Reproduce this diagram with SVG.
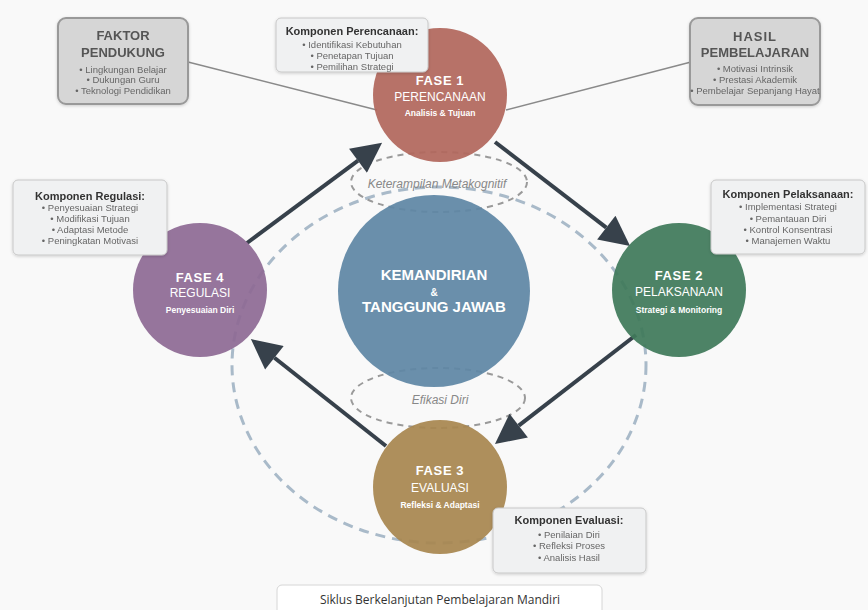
<svg xmlns="http://www.w3.org/2000/svg" width="868" height="610" viewBox="0 0 868 610">
<defs>
<style>
.t{font-family:"Liberation Sans",Arial,sans-serif;text-anchor:middle}
.ph{font-size:13px;font-weight:bold;fill:#fff;letter-spacing:0.6px}
.pn{font-size:12px;fill:#fff}
.ps{font-size:8.5px;font-weight:bold;fill:#fff}
.ct{font-size:15px;font-weight:bold;fill:#fff}
.bt{font-size:13px;font-weight:bold;fill:#555}
.bl{font-size:9.5px;fill:#666}
.kt{font-size:11px;font-weight:bold;fill:#333}
.kl{font-size:9.5px;fill:#666}
.el{font-size:12px;font-style:italic;fill:#888}
.cbox{fill:#f0f1f2;stroke:#c8c8c8;stroke-width:1}
.gbox{fill:#d6d6d6;stroke:#999;stroke-width:2}
.arr{stroke:#37414b;stroke-width:4;fill:none}
.gl{stroke:#8a8a8a;stroke-width:1.6;fill:none}
.dsh{fill:none;stroke:#9a9a9a;stroke-width:2;stroke-dasharray:6 5}
.node{opacity:0.93}
</style>
<marker id="ah" viewBox="0 0 10 10" markerUnits="userSpaceOnUse" markerWidth="35" markerHeight="30" refX="0" refY="5" orient="auto">
<path d="M0,0 L10,5 L0,10 z" fill="#37414b"/>
</marker>
<filter id="sh" x="-10%" y="-10%" width="120%" height="130%">
<feDropShadow dx="0" dy="1" stdDeviation="1.5" flood-color="#000" flood-opacity="0.18"/>
</filter>
</defs>
<rect width="868" height="610" fill="#f9f9f9"/>

<g id="background-rings">
<ellipse cx="439" cy="365" rx="207" ry="178" fill="none" stroke="#a9bac9" stroke-width="3" stroke-dasharray="10 7"/>
<ellipse cx="439" cy="182" rx="88" ry="30" class="dsh"/>
<ellipse cx="438" cy="398" rx="87" ry="30" class="dsh"/>
</g>

<g id="connectors">
<path class="gl" d="M188,62 Q290,88 377,110"/>
<path class="gl" d="M691,62 Q600,86 506,110"/>
<line class="arr" x1="247" y1="243" x2="358" y2="160.7" marker-end="url(#ah)"/>
<line class="arr" x1="495" y1="142" x2="606.3" y2="227.7" marker-end="url(#ah)"/>
<line class="arr" x1="636" y1="335" x2="518.7" y2="425.6" marker-end="url(#ah)"/>
<line class="arr" x1="386" y1="446" x2="274.4" y2="357.7" marker-end="url(#ah)"/>
</g>

<g id="center">
<circle class="node" cx="434" cy="291" r="96" fill="#5f86a5"/>
<text class="t ct" x="434" y="280">KEMANDIRIAN</text>
<text class="t" x="434" y="296" style="font-size:10px;font-weight:bold;fill:#fff">&amp;</text>
<text class="t ct" x="434" y="312">TANGGUNG JAWAB</text>
</g>

<g id="fase1">
<circle class="node" cx="440" cy="95" r="67" fill="#b2675d"/>
<text class="t ph" x="440" y="85">FASE 1</text>
<text class="t pn" x="440" y="101">PERENCANAAN</text>
<text class="t ps" x="440" y="116">Analisis &amp; Tujuan</text>
</g>

<g id="fase2">
<circle class="node" cx="679" cy="290" r="67" fill="#3f7a5a"/>
<text class="t ph" x="679" y="280">FASE 2</text>
<text class="t pn" x="679" y="296">PELAKSANAAN</text>
<text class="t ps" x="679" y="313">Strategi &amp; Monitoring</text>
</g>

<g id="fase3">
<circle class="node" cx="440" cy="487" r="67" fill="#a88650"/>
<text class="t ph" x="440" y="475">FASE 3</text>
<text class="t pn" x="440" y="492">EVALUASI</text>
<text class="t ps" x="440" y="508">Refleksi &amp; Adaptasi</text>
</g>

<g id="fase4">
<circle class="node" cx="200" cy="290" r="67" fill="#8e6a94"/>
<text class="t ph" x="200" y="282">FASE 4</text>
<text class="t pn" x="200" y="297">REGULASI</text>
<text class="t ps" x="200" y="313">Penyesuaian Diri</text>
</g>

<g id="ring-labels">
<text class="t el" x="437" y="188">Keterampilan Metakognitif</text>
<text class="t el" x="440" y="404">Efikasi Diri</text>
</g>

<g id="faktor-pendukung" filter="url(#sh)">
<rect class="gbox" x="58" y="18" width="130" height="86" rx="8"/>
<text class="t bt" x="123" y="40">FAKTOR</text>
<text class="t bt" x="123" y="57">PENDUKUNG</text>
<text class="t bl" x="123" y="73">• Lingkungan Belajar</text>
<text class="t bl" x="123" y="83">• Dukungan Guru</text>
<text class="t bl" x="123" y="94">• Teknologi Pendidikan</text>
</g>

<g id="hasil-pembelajaran" filter="url(#sh)">
<rect class="gbox" x="690" y="18" width="130" height="87" rx="8"/>
<text class="t bt" x="755" y="41" style="letter-spacing:1px">HASIL</text>
<text class="t bt" x="755" y="57">PEMBELAJARAN</text>
<text class="t bl" x="755" y="72">• Motivasi Intrinsik</text>
<text class="t bl" x="755" y="83">• Prestasi Akademik</text>
<text class="t bl" x="755" y="94">• Pembelajar Sepanjang Hayat</text>
</g>

<g id="komponen-perencanaan" filter="url(#sh)">
<rect class="cbox" x="276" y="18" width="152" height="54" rx="5"/>
<text class="t kt" x="352" y="35">Komponen Perencanaan:</text>
<text class="t kl" x="352" y="48">• Identifikasi Kebutuhan</text>
<text class="t kl" x="352" y="59">• Penetapan Tujuan</text>
<text class="t kl" x="352" y="70">• Pemilihan Strategi</text>
</g>

<g id="komponen-pelaksanaan" filter="url(#sh)">
<rect class="cbox" x="711" y="180" width="154" height="74" rx="5"/>
<text class="t kt" x="788" y="198">Komponen Pelaksanaan:</text>
<text class="t kl" x="788" y="210">• Implementasi Strategi</text>
<text class="t kl" x="788" y="222">• Pemantauan Diri</text>
<text class="t kl" x="788" y="233">• Kontrol Konsentrasi</text>
<text class="t kl" x="788" y="244">• Manajemen Waktu</text>
</g>

<g id="komponen-regulasi" filter="url(#sh)">
<rect class="cbox" x="13" y="180" width="154" height="75" rx="5"/>
<text class="t kt" x="90" y="200">Komponen Regulasi:</text>
<text class="t kl" x="90" y="211">• Penyesuaian Strategi</text>
<text class="t kl" x="90" y="222">• Modifikasi Tujuan</text>
<text class="t kl" x="90" y="233">• Adaptasi Metode</text>
<text class="t kl" x="90" y="244">• Peningkatan Motivasi</text>
</g>

<g id="komponen-evaluasi" filter="url(#sh)">
<rect class="cbox" x="493" y="508" width="153" height="65" rx="5"/>
<text class="t kt" x="569" y="524">Komponen Evaluasi:</text>
<text class="t kl" x="569" y="538">• Penilaian Diri</text>
<text class="t kl" x="569" y="549">• Refleksi Proses</text>
<text class="t kl" x="569" y="561">• Analisis Hasil</text>
</g>

<g id="caption">
<rect x="277" y="585" width="325" height="32" rx="5" fill="#fff" stroke="#d6d6d6" stroke-width="1"/>
<text x="440" y="604" style="font-family:'Open Sans','Liberation Sans',sans-serif;font-size:12px;fill:#333;text-anchor:middle">Siklus Berkelanjutan Pembelajaran Mandiri</text>
</g>
</svg>
